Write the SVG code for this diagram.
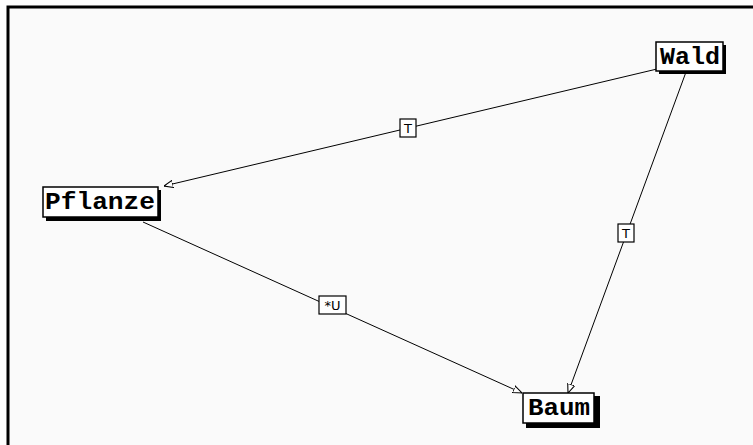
<svg xmlns="http://www.w3.org/2000/svg" width="753" height="445" viewBox="0 0 753 445">
<defs>
<style>
.frame{fill:#fafafa;stroke:#000;stroke-width:3}
.shadow{fill:#000}
.box{fill:#fff;stroke:#000;stroke-width:1.5}
.name{font-family:"Liberation Mono","Courier New",monospace;font-weight:bold;font-size:24px;fill:#000}
.edge{stroke:#000;stroke-width:1;fill:none}
.lbox{fill:#fff;stroke:#000;stroke-width:1.2}
.ltxt{font-family:"DejaVu Sans","Liberation Sans",sans-serif;font-size:13px;fill:#000}
</style>
<marker id="arr" viewBox="0 0 10 10" refX="10" refY="5" markerWidth="9" markerHeight="9" orient="auto" markerUnits="userSpaceOnUse">
<path d="M0,1 L10,5 L0,9 Z" fill="#fff" stroke="#000" stroke-width="1.2"/>
</marker>
</defs>
<rect x="0" y="0" width="753" height="445" fill="#fff"/>
<rect class="frame" x="8" y="7" width="760" height="450"/>
<g id="connectors">
<g id="e1"><line class="edge" x1="657" y1="69" x2="164" y2="186" marker-end="url(#arr)"/>
<rect class="lbox" x="400" y="119" width="16" height="18"/><text class="ltxt" x="408" y="133" text-anchor="middle">T</text></g>
<g id="e2"><line class="edge" x1="686" y1="72" x2="568" y2="393" marker-end="url(#arr)"/>
<rect class="lbox" x="618" y="224" width="16" height="18"/><text class="ltxt" x="626" y="238" text-anchor="middle">T</text></g>
<g id="e3"><line class="edge" x1="143" y1="222" x2="522" y2="393" marker-end="url(#arr)"/>
<rect class="lbox" x="319" y="296" width="27" height="18"/><text class="ltxt" x="332.5" y="310" text-anchor="middle">*U</text></g>
</g>
<g id="Wald">
<rect class="shadow" x="659" y="45" width="67" height="29"/>
<rect class="box" x="656" y="42" width="67" height="29"/>
<text class="name" x="660" y="64" textLength="60" lengthAdjust="spacingAndGlyphs">Wald</text>
</g>
<g id="Pflanze">
<rect class="shadow" x="46" y="190" width="115" height="31"/>
<rect class="box" x="43" y="187" width="115" height="30"/>
<text class="name" x="45" y="209" textLength="110" lengthAdjust="spacingAndGlyphs">Pflanze</text>
</g>
<g id="Baum">
<rect class="shadow" x="526" y="396" width="74" height="32"/>
<rect class="box" x="523" y="393" width="71" height="30"/>
<text class="name" x="528" y="415" textLength="62" lengthAdjust="spacingAndGlyphs">Baum</text>
</g>
</svg>
